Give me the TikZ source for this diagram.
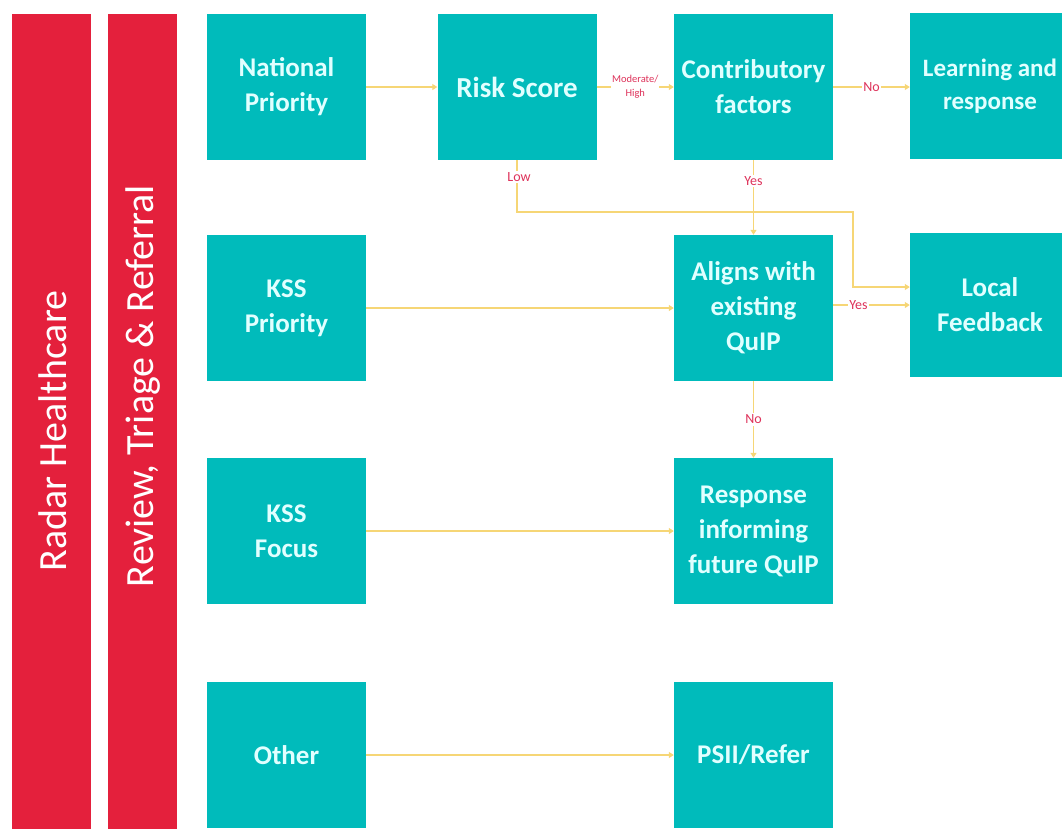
\documentclass[tikz,border=0pt]{standalone}
\usepackage{fontspec}
\setmainfont{Carlito}
\usetikzlibrary{arrows.meta}
\definecolor{tealbox}{RGB}{0,187,187}
\definecolor{boxtext}{RGB}{225,255,255}
\definecolor{redbar}{RGB}{228,32,60}
\definecolor{flow}{RGB}{246,214,118}
\definecolor{lab}{RGB}{222,50,90}
\begin{document}
\begin{tikzpicture}[x=1pt,y=-1pt,
  box/.style={fill=tealbox, text=boxtext, font=\fontsize{27}{35}\selectfont\bfseries, align=center, minimum width=159pt, minimum height=146pt, inner sep=0pt},
  bar/.style={fill=redbar, minimum width=#1, minimum height=830pt, inner sep=0pt},
  flowline/.style={draw=flow, line width=1.2pt},
  arr/.style={flowline, -{Triangle[width=6pt,length=5pt]}},
  lbl/.style={text=lab, fill=white, font=\fontsize{14}{16}\selectfont, inner sep=1.5pt},
  smalllbl/.style={text=lab, fill=white, font=\fontsize{10.5}{14}\selectfont, inner sep=1pt, align=center},
  bartext/.style={rotate=90, text=white, font=\fontsize{40}{48}\selectfont}]
\useasboundingbox (0,0) rectangle (1062,828);
\clip (0,0) rectangle (1062,828);
% red bars
\node[bar=79pt] (rb1) at (51.5,429) {};
\node[bar=69pt] (rb2) at (142.5,429) {};
\node[bartext] (rt1) at (53,431) {Radar Healthcare};
\node[bartext] (rt2) at (143,386) {Review, Triage \& Referral};
% boxes
\node[box] (np) at (286.5,87) {National\\Priority};
\node[box, font=\fontsize{29}{35}\selectfont\bfseries] (rs) at (517,87) {Risk Score};
\node[box] (cf) at (753.5,87) {Contributory\\factors};
\node[box, minimum width=160pt, font=\fontsize{25}{33}\selectfont\bfseries] (lr) at (990,86) {Learning and\\response};
\node[box] (kp) at (286.5,308) {KSS\\Priority};
\node[box] (al) at (753.5,308) {Aligns with\\existing\\QuIP};
\node[box, minimum width=160pt, minimum height=144pt] (lf) at (990,305) {Local\\Feedback};
\node[box] (kf) at (286.5,531) {KSS\\Focus};
\node[box] (rf) at (753.5,531) {Response\\informing\\future QuIP};
\node[box] (ot) at (286.5,755) {Other};
\node[box] (ps) at (753.5,755) {PSII/Refer};
% connectors
\coordinate (lowturn) at (853,212);
\draw[arr] (np) -- (rs);
\draw[arr] (rs) -- node[smalllbl] {Moderate/\\High} (cf);
\draw[arr] (cf.east) -- node[lbl] {No} (lr.west |- cf.east);
\draw[arr] (rs.south) |- (lowturn) |- ([yshift=18pt]lf.west);
\node[lbl] (lowl) at (519,177) {Low};
\draw[arr] (cf.south) -- node[lbl, pos=0.28] {Yes} (al.north);
\draw[arr] (kp) -- (al);
\draw[arr] (lf.west -| al.east) -- node[lbl, pos=0.33] {Yes} (lf.west);
\draw[arr] (al.south) -- node[lbl] {No} (rf.north);
\draw[arr] (kf) -- (rf);
\draw[arr] (ot) -- (ps);
\end{tikzpicture}
\end{document}
